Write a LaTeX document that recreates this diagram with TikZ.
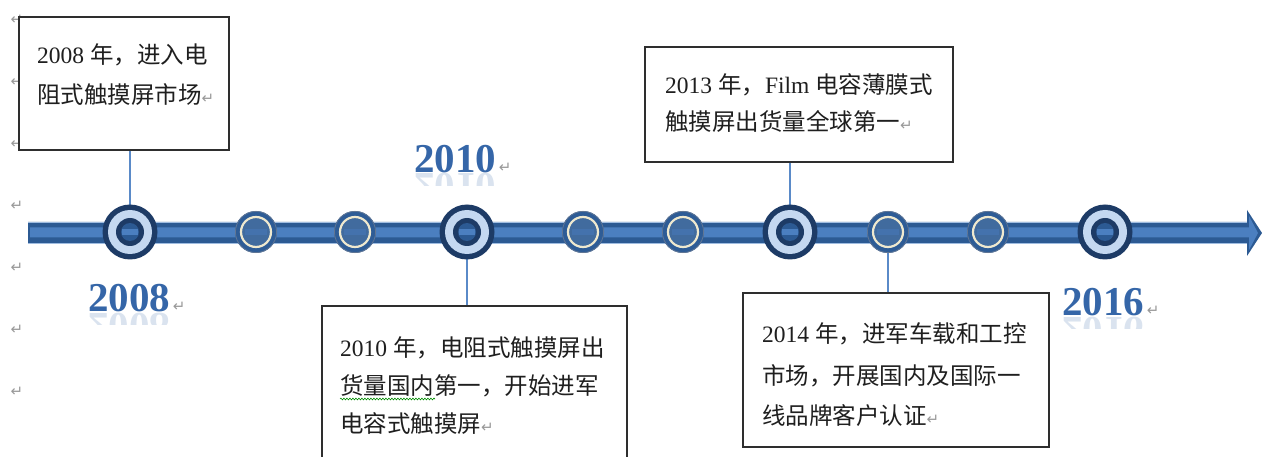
\documentclass[tikz,border=0pt]{standalone}
\usepackage{fontspec}
\setmainfont{Liberation Serif}
\newfontfamily\cjk{Noto Sans CJK SC}
\newfontfamily\djv{DejaVu Sans}
\usetikzlibrary{decorations.pathmorphing}
\definecolor{navy}{HTML}{1D3B66}
\definecolor{ringlight}{HTML}{C4D8F1}
\definecolor{bardark}{HTML}{2C5A93}
\definecolor{barmid}{HTML}{4B7FC0}
\definecolor{baredge}{HTML}{9FBCE0}
\definecolor{smallfill}{HTML}{2E5C96}
\definecolor{cream}{HTML}{EFE9CF}
\definecolor{connblue}{HTML}{5A8AC8}
\definecolor{yearblue}{HTML}{3566A8}
\definecolor{boxline}{HTML}{2E2E2E}
\newcommand\zh[1]{{\cjk #1}}
\newcommand\pmk{{\djv\fontsize{15}{15}\selectfont\color{black!40}↵}}
\tikzset{
  x=1pt, y=-1pt,
  box/.style={draw=boxline, line width=1.5pt, fill=white, rectangle, inner sep=0pt},
  boxtext/.style={anchor=base west, inner sep=0pt, font=\fontsize{23.5}{23.5}\selectfont, text=black!88},
  conn/.style={draw=connblue, line width=1.3pt},
  year/.style={anchor=base, inner sep=0pt, font=\bfseries\fontsize{41}{41}\selectfont, text=yearblue},
  yearrefl/.style={year, yscale=-1, transform shape, text opacity=0.18},
  margin/.style={inner sep=0pt, anchor=center},
  bigring/.pic={
    \fill[navy] (0,0) circle[radius=27.5pt];
    \fill[ringlight] (0,0) circle[radius=22pt];
    \fill[navy] (0,0) circle[radius=14pt];
    \fill[bardark] (0,0) circle[radius=9pt];
    \fill[barmid] (-8pt,-3pt) rectangle (8pt,3pt);
  },
  smallring/.pic={
    \fill[smallfill] (0,0) circle[radius=21pt];
    \draw[navy!70, line width=0.8pt] (0,0) circle[radius=20.6pt];
    \fill[bardark!90!white] (0,0) circle[radius=14pt];
    \draw[cream, line width=2.2pt] (0,0) circle[radius=15pt];
    \fill[barmid!90!black] (-11pt,-3pt) rectangle (11pt,3pt);
  }
}
\begin{document}
\begin{tikzpicture}
\useasboundingbox (0,0) rectangle (1262,457);
\clip (0,0) rectangle (1262,457);
\fill[white] (0,0) rectangle (1262,457);
% margin paragraph marks
\foreach \yy/\nm in {20/m1,82/m2,144/m3,206/m4,268/m5,330/m6,392/m7}
  \node[margin] (\nm) at (17,\yy) {\pmk};
% timeline bar with arrow head
\fill[bardark] (28,222) -- (1247,222) -- (1247,210) -- (1262,233) -- (1247,256) -- (1247,243) -- (28,243) -- cycle;
\fill[barmid] (30,227.5) -- (1249,227.5) -- (1249,216) -- (1258,233) -- (1249,250) -- (1249,237.5) -- (30,237.5) -- cycle;
\draw[baredge, line width=0.8pt] (28,222) -- (1247,222);
\draw[baredge, line width=0.8pt] (28,243) -- (1247,243);
% circle centres
\coordinate (c1) at (130,232);
\coordinate (c2) at (256,232);
\coordinate (c3) at (355,232);
\coordinate (c4) at (467,232);
\coordinate (c5) at (583,232);
\coordinate (c6) at (683,232);
\coordinate (c7) at (790,232);
\coordinate (c8) at (888,232);
\coordinate (c9) at (988,232);
\coordinate (c10) at (1105,232);
% boxes
\node[box, minimum width=210pt, minimum height=133pt] (b1) at (124,83.5) {};
\node[box, minimum width=308pt, minimum height=115pt] (b2) at (799,104.5) {};
\node[box, minimum width=305pt, minimum height=170pt] (b3) at (474.5,391) {};
\node[box, minimum width=306pt, minimum height=154pt] (b4) at (896,370) {};
% connectors
\draw[conn] (b1.south -| c1) -- (c1);
\draw[conn] (b2.south -| c7) -- (c7);
\draw[conn] (b3.north -| c4) -- (c4);
\draw[conn] (b4.north -| c8) -- (c8);
% rings
\foreach \c in {c1,c4,c7,c10} \pic at (\c) {bigring};
\foreach \c in {c2,c3,c5,c6,c8,c9} \pic at (\c) {smallring};
% box texts
\node[boxtext] (t11) at (37,64) {2008 \zh{年，进入电}};
\node[boxtext] (t12) at (37,104) {\zh{阻式触摸屏市场}\pmk};
\node[boxtext] (t21) at (665,94) {2013 \zh{年，}Film \zh{电容薄膜式}};
\node[boxtext] (t22) at (665,131) {\zh{触摸屏出货量全球第一}\pmk};
\node[boxtext] (t31) at (340,356) {2010 \zh{年，电阻式触摸屏出}};
\node[boxtext] (t32) at (340,394) {\zh{货量国内第一，开始进军}};
\node[boxtext] (t33) at (340,432) {\zh{电容式触摸屏}\pmk};
\draw[green!55!black, line width=0.6pt, decorate, decoration={snake, amplitude=0.9pt, segment length=3pt}] (t32.base west) ++(0,5) -- ++(95,0);
\node[boxtext] (t41) at (762,342) {2014 \zh{年，进军车载和工控}};
\node[boxtext] (t42) at (762,384) {\zh{市场，开展国内及国际一}};
\node[boxtext] (t43) at (762,424) {\zh{线品牌客户认证}\pmk};
% year labels with faint reflections
\begin{scope}
\clip (80,312) rectangle (180,325);
\node[yearrefl] (r1) at (129,313) {2008};
\end{scope}
\begin{scope}
\clip (405,173) rectangle (505,186);
\node[yearrefl] (r2) at (455,174) {2010};
\end{scope}
\begin{scope}
\clip (1055,316) rectangle (1155,329);
\node[yearrefl] (r3) at (1103,317) {2016};
\end{scope}
\node[year] (y1) at (129,312) {2008};
\node[year] (y2) at (455,173) {2010};
\node[year] (y3) at (1103,316) {2016};
\node[anchor=base west, inner sep=0pt] (p1) at (y1.base east) {~\pmk};
\node[anchor=base west, inner sep=0pt] (p2) at (y2.base east) {~\pmk};
\node[anchor=base west, inner sep=0pt] (p3) at (y3.base east) {~\pmk};
\end{tikzpicture}
\end{document}
